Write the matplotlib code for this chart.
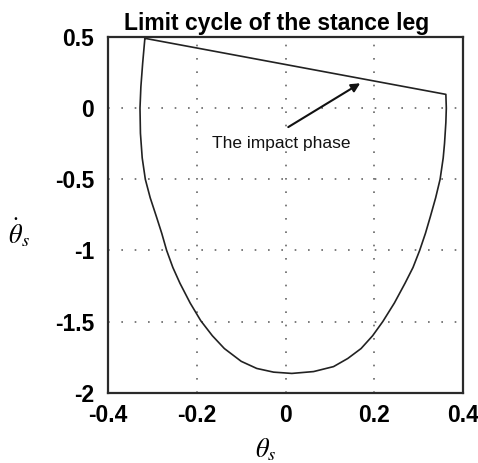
import numpy as np
import matplotlib.pyplot as plt

# limit cycle points (theta_s, dtheta_s)
theta = [-0.317, -0.322, -0.326, -0.328, -0.327, -0.323, -0.316, -0.305, -0.291,
         -0.279, -0.268, -0.254, -0.238, -0.215, -0.191, -0.165, -0.138, -0.100,
         -0.065, -0.027, 0.014, 0.063, 0.108, 0.140, 0.170, 0.196, 0.219, 0.245,
         0.269, 0.287, 0.302, 0.315, 0.326, 0.338, 0.348, 0.355, 0.358, 0.361,
         0.362, 0.361, -0.317]
dtheta = [0.491, 0.315, 0.15, 0.0, -0.177, -0.35, -0.5, -0.63, -0.763,
          -0.88, -1.0, -1.12, -1.231, -1.37, -1.495, -1.60, -1.69, -1.78,
          -1.830, -1.856, -1.865, -1.852, -1.817, -1.76, -1.69, -1.60, -1.5, -1.37,
          -1.231, -1.12, -1.0, -0.88, -0.763, -0.63, -0.5, -0.35, -0.247, -0.1,
          0.0, 0.097, 0.491]

xticks = [-0.4, -0.2, 0, 0.2, 0.4]
xtick_labels = ["-0.4", "-0.2", "0", "0.2", "0.4"]
yticks = [-2, -1.5, -1, -0.5, 0, 0.5]
ytick_labels = ["-2", "-1.5", "-1", "-0.5", "0", "0.5"]

note_text = "The impact phase"
note_text_pos = (-0.166, -0.245)
arrow_tail = (0.006, -0.133)
arrow_head = (0.168, 0.175)

plt.rcParams['font.family'] = ['Liberation Sans', 'DejaVu Sans']
plt.rcParams['mathtext.fontset'] = 'stix'

fig = plt.figure(figsize=(4.78, 4.63), dpi=100)
ax = fig.add_axes([0.226, 0.152, 0.743, 0.768])

ax.plot(theta, dtheta, color="#222222", linewidth=1.2)

ax.set_xlim(-0.4, 0.4)
ax.set_ylim(-2, 0.5)
ax.set_xticks(xticks)
ax.set_xticklabels(xtick_labels, fontsize=16.5, fontweight="bold")
ax.set_yticks(yticks)
ax.set_yticklabels(ytick_labels, fontsize=16.5, fontweight="bold")
ax.tick_params(axis="y", direction="in", length=0, pad=10)
ax.tick_params(axis="x", direction="in", length=0, pad=8)

ax.grid(True, color="#666666", linestyle=(0, (1, 7)), linewidth=1.2)
for s in ax.spines.values():
    s.set_linewidth(1.6)
    s.set_color("#2a2a2a")

ax.set_title("Limit cycle of the stance leg", fontsize=16.5, fontweight="bold",
             pad=5, x=0.474)
ax.set_xlabel(r"$\theta_s$", fontsize=19)
ax.xaxis.set_label_coords(0.445, -0.122)
ax.set_ylabel(r"$\dot{\theta}_s$", fontsize=19, rotation=0, ha="center", va="center")
ax.yaxis.set_label_coords(-0.25, 0.45)

ax.text(note_text_pos[0], note_text_pos[1], note_text, fontsize=12.5,
        va="center", ha="left", color="#111111")
ax.annotate("", xy=arrow_head, xytext=arrow_tail,
            arrowprops=dict(arrowstyle="-|>", color="#111111", lw=1.5,
                            shrinkA=0, shrinkB=0, mutation_scale=13))

fig.savefig("out.png", dpi=100)
